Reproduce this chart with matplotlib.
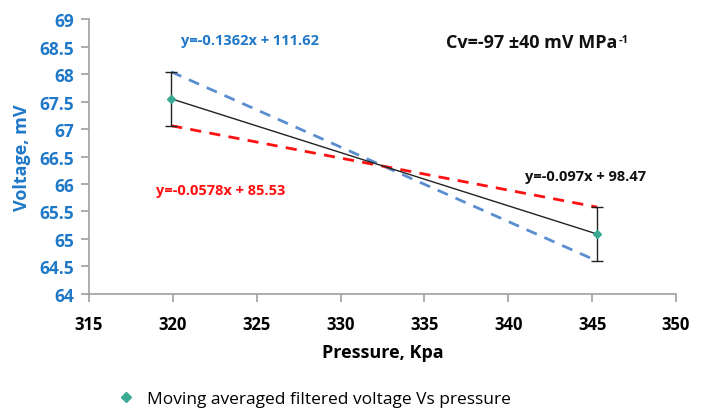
import matplotlib
matplotlib.use('Agg')
import matplotlib.pyplot as plt
from matplotlib.lines import Line2D

plt.rcParams['font.family'] = ['Open Sans', 'DejaVu Sans']

# measured points (pressure, filtered voltage) and their error
pressure = [319.9, 345.3]
voltage = [67.55, 65.09]
err = [0.49, 0.49]

# extreme slopes through the error bar ends
upper_y = [voltage[0] + err[0], voltage[1] - err[1]]
lower_y = [voltage[0] - err[0], voltage[1] + err[1]]

blue = '#1F78C8'
fig = plt.figure(figsize=(7.04, 4.10), dpi=100)
ax = fig.add_axes([0.1264, 0.2805, 0.8338, 0.6707])

ax.plot(pressure, upper_y, '--', color='#5B8ED0', lw=2, dashes=(4, 3))
ax.plot(pressure, lower_y, '--', color='#FF1010', lw=2, dashes=(4, 3))
ax.plot(pressure, voltage, '-', color='#222222', lw=1)
ax.errorbar(pressure, voltage, yerr=err, fmt='D', color='#3AAA95', ms=4,
            ecolor='#222222', elinewidth=1, capsize=4, capthick=1)

ax.set_xlim(315, 350)
ax.set_ylim(64, 69)
ax.set_xticks(range(315, 351, 5))
ax.set_yticks([64 + 0.5 * i for i in range(11)])
ax.set_yticklabels(['64', '64.5', '65', '65.5', '66', '66.5', '67', '67.5', '68', '68.5', '69'])

for s in ['top', 'right']:
    ax.spines[s].set_visible(False)
for s in ['left', 'bottom']:
    ax.spines[s].set_color('#A0A0A0')
    ax.spines[s].set_linewidth(1.2)
ax.tick_params(axis='both', color='#A0A0A0', length=6, width=1.2)
ax.tick_params(axis='x', labelsize=12, pad=9)
ax.tick_params(axis='y', labelsize=12.5, labelcolor=blue, pad=5)
for lab in ax.get_xticklabels() + ax.get_yticklabels():
    lab.set_fontweight('bold')

ax.set_xlabel('Pressure, Kpa', fontsize=13, fontweight='bold', labelpad=7)
ax.set_ylabel('Voltage, mV', fontsize=13, fontweight='bold', color=blue, labelpad=6)

ax.text(320.5, 68.55, 'y=-0.1362x + 111.62', color=blue, fontsize=10.5, fontweight='bold')
ax.text(319.0, 65.82, 'y=-0.0578x + 85.53', color='#FF1010', fontsize=10.5, fontweight='bold')
ax.text(341.0, 66.07, 'y=-0.097x + 98.47', color='#111111', fontsize=10.5, fontweight='bold')
cv = ax.text(336.3, 68.5, 'Cv=-97 ±40 mV MPa', color='#111111', fontsize=13, fontweight='bold')
ax.annotate('-1', xy=(1.0, 1.0), xycoords=cv, xytext=(0.5, -1), textcoords='offset points',
            ha='left', va='top', color='#111111', fontsize=8, fontweight='bold')

handle = Line2D([], [], marker='D', color='#3AAA95', ls='none', ms=5)
fig.legend([handle], ['Moving averaged filtered voltage Vs pressure'],
           loc='center', bbox_to_anchor=(0.44, 0.025), frameon=False,
           fontsize=12.5, handletextpad=0.2)

fig.savefig('out.png', dpi=100)
